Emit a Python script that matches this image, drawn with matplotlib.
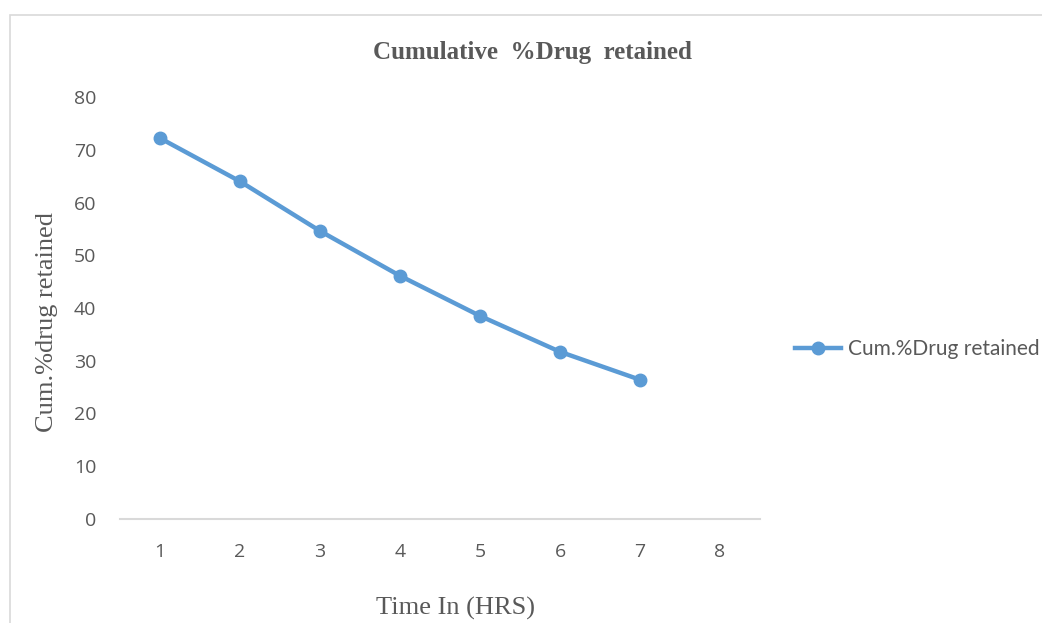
import matplotlib
matplotlib.use("Agg")
import matplotlib.pyplot as plt
from matplotlib.patches import Rectangle
from matplotlib.lines import Line2D

# Data
hours = [1, 2, 3, 4, 5, 6, 7, 8]
retained = [72.2, 64.0, 54.6, 46.1, 38.5, 31.7, 26.4]
y_ticks = [0, 10, 20, 30, 40, 50, 60, 70, 80]
series_name = "Cum.%Drug retained"
title = "Cumulative  %Drug  retained"
x_label = "Time In (HRS)"
y_label = "Cum.%drug retained"

W, H = 1042, 623
fig = plt.figure(figsize=(W / 100, H / 100), dpi=100)
fig.patch.set_facecolor("white")

# outer chart frame
fig.patches.append(Rectangle((9.5 / W, -0.1), 1.2, 1.1 - 14.5 / H,
                             transform=fig.transFigure, fill=False,
                             edgecolor="#d9d9d9", lw=1.2))

left, right, top, bottom = 120, 760, 97, 519
ax = fig.add_axes([left / W, (H - bottom) / H, (right - left) / W, (bottom - top) / H])

blue = "#5B9BD5"
grey = "#595959"
xpos = list(range(len(hours)))
ax.plot(xpos[:len(retained)], retained, color=blue, lw=3.2, marker="o",
        markersize=9, solid_capstyle="round")

ax.set_xlim(-0.5, len(hours) - 0.5)
ax.set_ylim(0, 80)
ax.set_xticks(xpos)
ax.set_xticklabels([str(h) for h in hours])
ax.set_yticks(y_ticks)

for s in ["top", "right", "left"]:
    ax.spines[s].set_visible(False)
ax.spines["bottom"].set_color("#d9d9d9")
ax.spines["bottom"].set_linewidth(1.5)
ax.tick_params(length=0, labelsize=14, labelcolor=grey)
ax.tick_params(axis="x", pad=17)
ax.tick_params(axis="y", pad=17)
for lbl in ax.get_xticklabels() + ax.get_yticklabels():
    lbl.set_fontfamily("Open Sans")

fig.text(532 / W, 1 - 52 / H, title, ha="center", va="center",
         fontfamily="Liberation Serif", fontweight="bold", fontsize=18, color=grey)
fig.text(456 / W, 1 - 608 / H, x_label, ha="center", va="center",
         fontfamily="Liberation Serif", fontsize=19, color=grey)
fig.text(47 / W, 1 - 322 / H, y_label, ha="center", va="center", rotation=90,
         fontfamily="Liberation Serif", fontsize=19, color=grey)

# legend
handle = Line2D([], [], color=blue, lw=3.2, marker="o", markersize=9)
fig.legend([handle], [series_name], loc="center left",
           bbox_to_anchor=(787 / W, 1 - 349 / H), frameon=False,
           prop={"family": "Lato", "size": 15}, labelcolor=grey,
           handlelength=2.2, handletextpad=0.35, borderaxespad=0.0)

fig.savefig("out.png", dpi=100, facecolor="white")
